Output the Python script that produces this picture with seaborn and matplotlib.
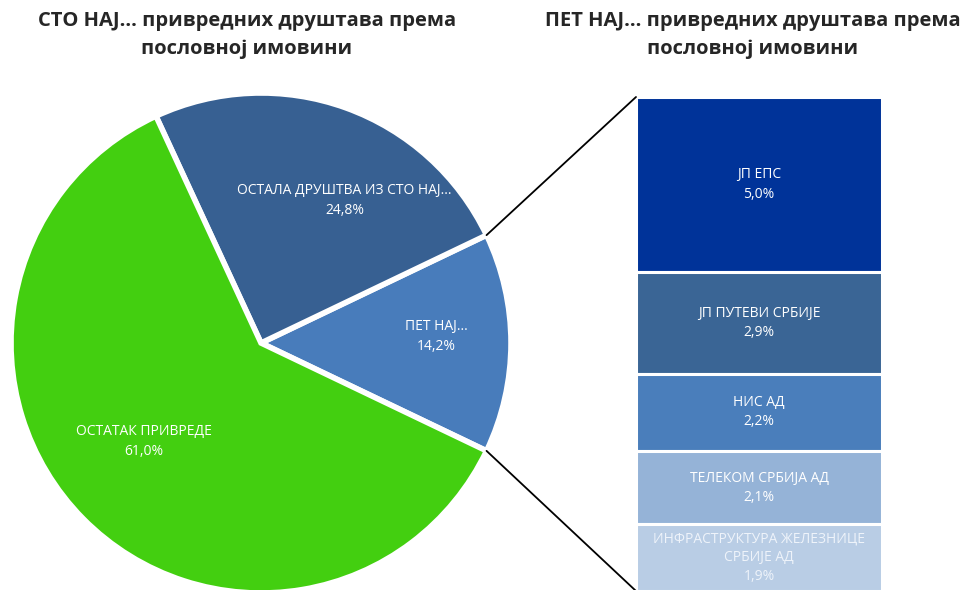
import numpy as np
import matplotlib.pyplot as plt
import seaborn as sns
from matplotlib.patches import ConnectionPatch

# Pie data (share of total business assets)
pie_labels = ['ПЕТ НАЈ...', 'ОСТАЛА ДРУШТВА ИЗ СТО НАЈ...', 'ОСТАТАК ПРИВРЕДЕ']
pie_values = [14.2, 24.8, 61.0]
pie_colors = ['#487CBB', '#376092', '#43CF10']

# Bar data (top five companies), listed from top to bottom
bar_labels = ['ЈП ЕПС', 'ЈП ПУТЕВИ СРБИЈЕ', 'НИС АД', 'ТЕЛЕКОМ СРБИЈА АД',
              'ИНФРАСТРУКТУРА ЖЕЛЕЗНИЦЕ\nСРБИЈЕ АД']
bar_values = [5.0, 2.9, 2.2, 2.1, 1.9]
bar_colors = ['#003399', '#3A6595', '#4A7EBB', '#95B3D7', '#B9CDE5']
bar_text_colors = ['white', 'white', 'white', 'white', '#EEF3FA']

sns.set_style('white')
plt.rcParams['font.family'] = ['Open Sans', 'DejaVu Sans']

W, H = 961, 590
fig = plt.figure(figsize=(W / 100, H / 100), dpi=100)


def fig_rect(x0, y0, x1, y1):
    # pixel box (top-left origin) -> figure fraction rect
    return [x0 / W, 1 - y1 / H, (x1 - x0) / W, (y1 - y0) / H]


def pct(v):
    return f'{v:.1f}%'.replace('.', ',')


# --- pie ---
ax1 = fig.add_axes(fig_rect(11, 93, 511, 593))
start = -pie_values[0] / 100 * 360 / 2
wedges, _ = ax1.pie(pie_values, colors=pie_colors, startangle=start,
                    counterclock=True, radius=1,
                    wedgeprops=dict(edgecolor='white', linewidth=4))
ax1.set_xlim(-1, 1)
ax1.set_ylim(-1, 1)
ax1.set_aspect('equal')
ax1.axis('off')

# label placement (angle in degrees, radius fraction)
label_pos = [(2, 0.70), (59.6, 0.66), (220, 0.61)]
for lab, val, (ang, rr) in zip(pie_labels, pie_values, label_pos):
    a = np.deg2rad(ang)
    ax1.text(rr * np.cos(a), rr * np.sin(a), f'{lab}\n{pct(val)}',
             ha='center', va='center', color='white', fontsize=10,
             linespacing=1.45)

# --- stacked bar ---
ax2 = fig.add_axes(fig_rect(636, 97, 882, 591))
total = sum(bar_values)
bottom = total
for lab, val, col, tcol in zip(bar_labels, bar_values, bar_colors, bar_text_colors):
    bottom -= val
    ax2.bar(0, val, bottom=bottom, width=1, color=col, edgecolor='white', linewidth=2.2)
    ax2.text(0, bottom + val / 2, f'{lab}\n{pct(val)}',
             ha='center', va='center', color=tcol, fontsize=10, linespacing=1.38)
ax2.set_xlim(-0.5, 0.5)
ax2.set_ylim(0, total)
ax2.axis('off')

# connector lines from the pulled-out wedge edges to the bar corners
w = wedges[0]
for theta, ycorner in [(w.theta2, total), (w.theta1, 0)]:
    t = np.deg2rad(theta)
    con = ConnectionPatch(xyA=(-0.5, ycorner), coordsA=ax2.transData,
                          xyB=(w.r * np.cos(t), w.r * np.sin(t)), coordsB=ax1.transData,
                          color='black', linewidth=1.3)
    fig.add_artist(con)

# titles
fig.text(247 / W, 1 - 35 / H, 'СТО НАЈ... привредних друштава према\nпословној имовини',
         ha='center', va='center', fontsize=14.5, fontweight='bold', linespacing=1.5)
fig.text(753 / W, 1 - 35 / H, 'ПЕТ НАЈ... привредних друштава према\nпословној имовини',
         ha='center', va='center', fontsize=14.5, fontweight='bold', linespacing=1.5)

fig.savefig('out.png', dpi=100)
